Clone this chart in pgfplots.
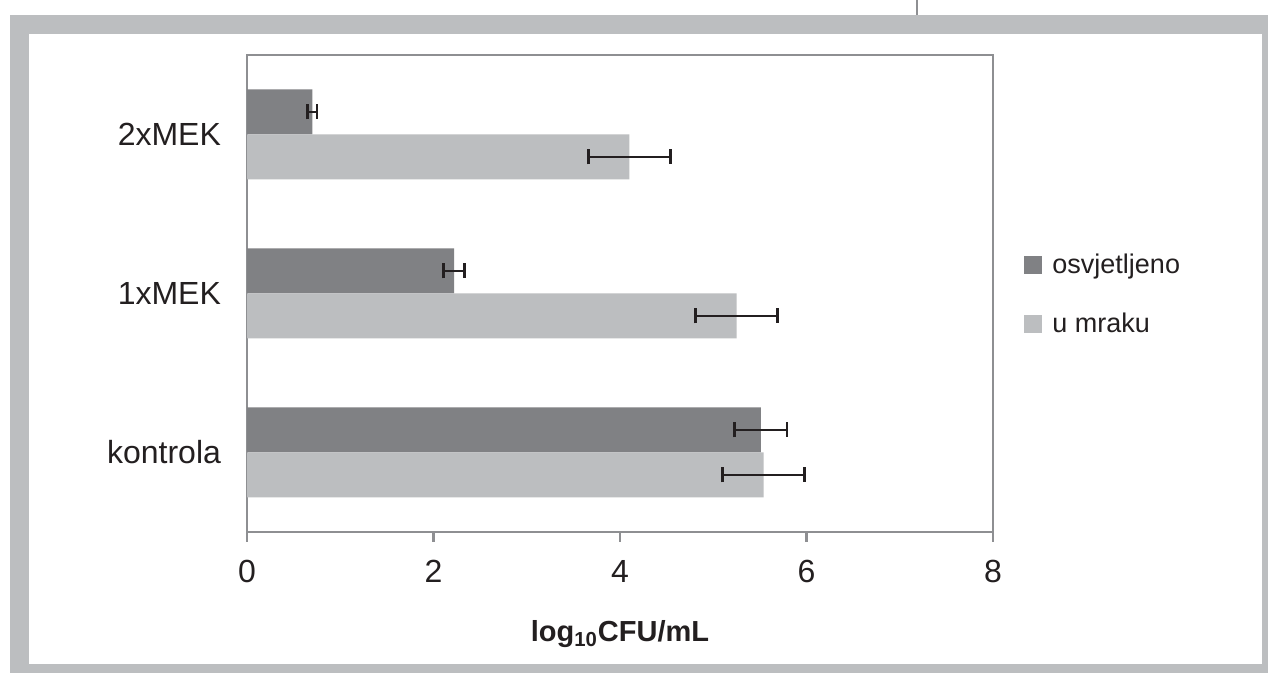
\documentclass[border=0pt]{standalone}
\usepackage{fontspec}
\setmainfont{Liberation Sans}
\usepackage{pgfplots}
\pgfplotsset{compat=1.18}
\definecolor{darkbar}{HTML}{808184}
\definecolor{lightbar}{HTML}{BCBEC0}
\definecolor{framegray}{HTML}{BCBEC0}
\definecolor{axisgray}{HTML}{8E8F92}
\definecolor{errblack}{HTML}{231F20}
\begin{document}
\begin{tikzpicture}
\path[use as bounding box] (0,0) rectangle (634pt,336.5pt);
\fill[framegray] (5pt,0) rectangle (634pt,329pt);
\fill[white] (14.5pt,4.5pt) rectangle (631pt,319.5pt);
\draw[axisgray, line width=1pt] (458.5pt,329pt) -- (458.5pt,336.5pt);
\begin{axis}[
  at={(123.5pt,70.5pt)}, anchor=south west,
  width=373pt, height=238.5pt, scale only axis,
  xmin=0, xmax=8, ymin=-0.5, ymax=2.5,
  xtick={0,2,4,6,8}, ytick={0,1,2},
  yticklabels={kontrola,1xMEK,2xMEK},
  xtick pos=left,
  ytick style={draw=none},
  tick align=outside, major tick length=5pt,
  axis line style={axisgray, line width=1.25pt},
  xtick style={axisgray, line width=1.25pt},
  every tick label/.append style={font=\fontsize{16}{19}\selectfont, text=errblack},
  yticklabel style={xshift=-4.5pt},
  xticklabel style={yshift=-5.5pt},
  /pgf/number format/assume math mode=true,
  xlabel={\textbf{log\textsubscript{10}CFU/mL}},
  xlabel style={font=\fontsize{14.5}{17}\selectfont, text=errblack, at={(axis description cs:0.5,-0.2306)}, anchor=base},
  xbar, bar width=22.5pt,
  legend style={draw=none, fill=none, at={(1.0336,0.498)}, anchor=west,
    font=\fontsize{13.5}{16}\selectfont, text=errblack, row sep=14pt,
    /tikz/every odd column/.append style={column sep=3pt}},
  legend cell align=left,
]
\addplot[fill=darkbar, draw=none, bar shift=11.25pt,
  legend image code/.code={\fill[darkbar] (0pt,-4.5pt) rectangle (9pt,4.5pt);},
  error bars/.cd, x dir=both, x explicit, error mark=|,
  error bar style={draw=errblack, line width=1.4pt},
  error mark options={draw=errblack, line width=1.4pt, mark size=3.75pt}]
  coordinates {(5.51,0) +- (0.28,0) (2.22,1) +- (0.11,0) (0.70,2) +- (0.05,0)};
\addlegendentry{osvjetljeno}
\addplot[fill=lightbar, draw=none, bar shift=-11.25pt,
  legend image code/.code={\fill[lightbar] (0pt,-4.5pt) rectangle (9pt,4.5pt);},
  error bars/.cd, x dir=both, x explicit, error mark=|,
  error bar style={draw=errblack, line width=1.4pt},
  error mark options={draw=errblack, line width=1.4pt, mark size=3.75pt}]
  coordinates {(5.54,0) +- (0.44,0) (5.25,1) +- (0.44,0) (4.10,2) +- (0.44,0)};
\addlegendentry{u mraku}
\end{axis}
\end{tikzpicture}
\end{document}
